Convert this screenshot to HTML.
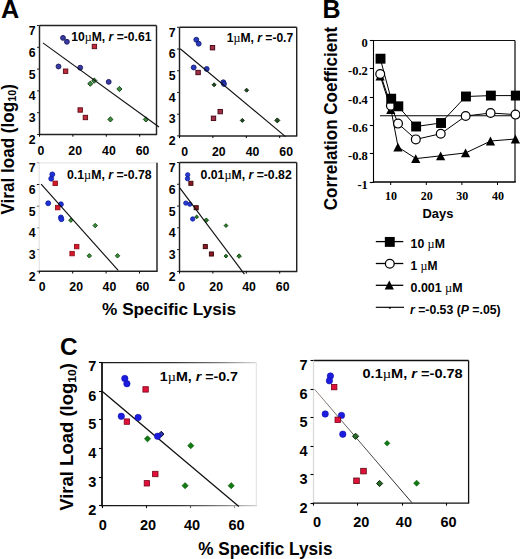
<!DOCTYPE html>
<html><head><meta charset="utf-8"><style>
html,body{margin:0;padding:0;background:#fff;}
svg{display:block;}
</style></head><body>
<svg width="520" height="559" viewBox="0 0 520 559">
<rect width="520" height="559" fill="#fff"/>
<text x="1" y="17.6" font-family='"Liberation Sans", sans-serif' font-weight="bold" font-size="25.5" textLength="18.2" lengthAdjust="spacingAndGlyphs" fill="#000">A</text>
<text x="322.6" y="17.8" font-family='"Liberation Sans", sans-serif' font-weight="bold" font-size="25" fill="#000">B</text>
<text x="60" y="354.6" font-family='"Liberation Sans", sans-serif' font-weight="bold" font-size="23.5" textLength="17.6" lengthAdjust="spacingAndGlyphs" fill="#000">C</text>
<line x1="39.5" y1="25.5" x2="156.5" y2="25.5" stroke="#222" stroke-width="1.45"/>
<line x1="156.5" y1="25.5" x2="156.5" y2="134.5" stroke="#222" stroke-width="1.45"/>
<line x1="39.5" y1="25.5" x2="39.5" y2="135.1" stroke="#222" stroke-width="1.45"/>
<line x1="38.9" y1="134.5" x2="157.1" y2="134.5" stroke="#222" stroke-width="1.45"/>
<line x1="37" y1="25.5" x2="39.5" y2="25.5" stroke="#222" stroke-width="1"/>
<text x="35.6" y="34.9" font-family='"Liberation Sans", sans-serif' font-weight="bold" font-size="12.3" text-anchor="end" fill="#000">7</text>
<line x1="37" y1="47.3" x2="39.5" y2="47.3" stroke="#222" stroke-width="1"/>
<text x="35.6" y="56.7" font-family='"Liberation Sans", sans-serif' font-weight="bold" font-size="12.3" text-anchor="end" fill="#000">6</text>
<line x1="37" y1="69.1" x2="39.5" y2="69.1" stroke="#222" stroke-width="1"/>
<text x="35.6" y="78.5" font-family='"Liberation Sans", sans-serif' font-weight="bold" font-size="12.3" text-anchor="end" fill="#000">5</text>
<line x1="37" y1="90.9" x2="39.5" y2="90.9" stroke="#222" stroke-width="1"/>
<text x="35.6" y="100.3" font-family='"Liberation Sans", sans-serif' font-weight="bold" font-size="12.3" text-anchor="end" fill="#000">4</text>
<line x1="37" y1="112.7" x2="39.5" y2="112.7" stroke="#222" stroke-width="1"/>
<text x="35.6" y="122.1" font-family='"Liberation Sans", sans-serif' font-weight="bold" font-size="12.3" text-anchor="end" fill="#000">3</text>
<line x1="37" y1="134.5" x2="39.5" y2="134.5" stroke="#222" stroke-width="1"/>
<text x="35.6" y="143.9" font-family='"Liberation Sans", sans-serif' font-weight="bold" font-size="12.3" text-anchor="end" fill="#000">2</text>
<line x1="39.5" y1="134.5" x2="39.5" y2="136.7" stroke="#000" stroke-width="1"/>
<line x1="72.9" y1="134.5" x2="72.9" y2="136.7" stroke="#000" stroke-width="1"/>
<line x1="106.3" y1="134.5" x2="106.3" y2="136.7" stroke="#000" stroke-width="1"/>
<line x1="139.7" y1="134.5" x2="139.7" y2="136.7" stroke="#000" stroke-width="1"/>
<text x="40.9" y="154.7" font-family='"Liberation Sans", sans-serif' font-weight="bold" font-size="12.3" text-anchor="middle" fill="#000">0</text>
<text x="75.2" y="154.7" font-family='"Liberation Sans", sans-serif' font-weight="bold" font-size="12.3" text-anchor="middle" fill="#000">20</text>
<text x="108.9" y="154.7" font-family='"Liberation Sans", sans-serif' font-weight="bold" font-size="12.3" text-anchor="middle" fill="#000">40</text>
<text x="142.5" y="154.7" font-family='"Liberation Sans", sans-serif' font-weight="bold" font-size="12.3" text-anchor="middle" fill="#000">60</text>
<circle cx="63" cy="37.9" r="2.45" fill="#3a3aa6" stroke="#15155a" stroke-width="0.9"/>
<circle cx="66.9" cy="41.8" r="2.45" fill="#3a3aa6" stroke="#15155a" stroke-width="0.9"/>
<circle cx="58.5" cy="66.5" r="2.45" fill="#3a3aa6" stroke="#15155a" stroke-width="0.9"/>
<circle cx="80.2" cy="67.7" r="2.45" fill="#3a3aa6" stroke="#15155a" stroke-width="0.9"/>
<circle cx="108.7" cy="81.9" r="2.45" fill="#3a3aa6" stroke="#15155a" stroke-width="0.9"/>
<rect x="92.2" y="44.3" width="4.4" height="4.4" fill="#c02a3a" stroke="#5a0a12" stroke-width="0.9"/>
<rect x="63.4" y="69" width="4.4" height="4.4" fill="#c02a3a" stroke="#5a0a12" stroke-width="0.9"/>
<rect x="78" y="107.8" width="4.4" height="4.4" fill="#c02a3a" stroke="#5a0a12" stroke-width="0.9"/>
<rect x="83.2" y="115.3" width="4.4" height="4.4" fill="#c02a3a" stroke="#5a0a12" stroke-width="0.9"/>
<path d="M90.3 81.1L92.9 83.7L90.3 86.3L87.7 83.7Z" fill="#3f8a3f" stroke="#0f3f12" stroke-width="0.9"/>
<path d="M94.3 78L96.9 80.6L94.3 83.2L91.7 80.6Z" fill="#3f8a3f" stroke="#0f3f12" stroke-width="0.9"/>
<path d="M119.4 86.4L122 89L119.4 91.6L116.8 89Z" fill="#3f8a3f" stroke="#0f3f12" stroke-width="0.9"/>
<path d="M110.4 116.8L113 119.4L110.4 122L107.8 119.4Z" fill="#3f8a3f" stroke="#0f3f12" stroke-width="0.9"/>
<path d="M145.9 116.8L148.5 119.4L145.9 122L143.3 119.4Z" fill="#3f8a3f" stroke="#0f3f12" stroke-width="0.9"/>
<line x1="42.9" y1="42.9" x2="159" y2="127" stroke="#111" stroke-width="1.15"/>
<text x="71.2" y="41.1" font-family='"Liberation Sans", sans-serif' font-weight="bold" font-size="12.2" textLength="80.2" lengthAdjust="spacingAndGlyphs" fill="#000">10<tspan font-family='"Liberation Serif", serif' font-weight="normal">µ</tspan>M, <tspan font-style="italic">r</tspan> =-0.61</text>
<line x1="179.5" y1="27.3" x2="296.7" y2="27.3" stroke="#222" stroke-width="1.45"/>
<line x1="296.7" y1="27.3" x2="296.7" y2="135.9" stroke="#222" stroke-width="1.45"/>
<line x1="179.5" y1="27.3" x2="179.5" y2="136.5" stroke="#222" stroke-width="1.45"/>
<line x1="178.9" y1="135.9" x2="297.3" y2="135.9" stroke="#222" stroke-width="1.45"/>
<line x1="177" y1="27.3" x2="179.5" y2="27.3" stroke="#222" stroke-width="1"/>
<text x="175.6" y="36.5" font-family='"Liberation Sans", sans-serif' font-weight="bold" font-size="12.3" text-anchor="end" fill="#000">7</text>
<line x1="177" y1="49.02" x2="179.5" y2="49.02" stroke="#222" stroke-width="1"/>
<text x="175.6" y="58.22" font-family='"Liberation Sans", sans-serif' font-weight="bold" font-size="12.3" text-anchor="end" fill="#000">6</text>
<line x1="177" y1="70.74" x2="179.5" y2="70.74" stroke="#222" stroke-width="1"/>
<text x="175.6" y="79.94" font-family='"Liberation Sans", sans-serif' font-weight="bold" font-size="12.3" text-anchor="end" fill="#000">5</text>
<line x1="177" y1="92.46" x2="179.5" y2="92.46" stroke="#222" stroke-width="1"/>
<text x="175.6" y="101.66" font-family='"Liberation Sans", sans-serif' font-weight="bold" font-size="12.3" text-anchor="end" fill="#000">4</text>
<line x1="177" y1="114.18" x2="179.5" y2="114.18" stroke="#222" stroke-width="1"/>
<text x="175.6" y="123.38" font-family='"Liberation Sans", sans-serif' font-weight="bold" font-size="12.3" text-anchor="end" fill="#000">3</text>
<line x1="177" y1="135.9" x2="179.5" y2="135.9" stroke="#222" stroke-width="1"/>
<text x="175.6" y="145.1" font-family='"Liberation Sans", sans-serif' font-weight="bold" font-size="12.3" text-anchor="end" fill="#000">2</text>
<line x1="179.5" y1="135.9" x2="179.5" y2="138.1" stroke="#000" stroke-width="1"/>
<line x1="212.9" y1="135.9" x2="212.9" y2="138.1" stroke="#000" stroke-width="1"/>
<line x1="246.3" y1="135.9" x2="246.3" y2="138.1" stroke="#000" stroke-width="1"/>
<line x1="279.7" y1="135.9" x2="279.7" y2="138.1" stroke="#000" stroke-width="1"/>
<text x="184.6" y="155.7" font-family='"Liberation Sans", sans-serif' font-weight="bold" font-size="12.3" text-anchor="middle" fill="#000">0</text>
<text x="218.8" y="155.7" font-family='"Liberation Sans", sans-serif' font-weight="bold" font-size="12.3" text-anchor="middle" fill="#000">20</text>
<text x="252.5" y="155.7" font-family='"Liberation Sans", sans-serif' font-weight="bold" font-size="12.3" text-anchor="middle" fill="#000">40</text>
<text x="286.2" y="155.7" font-family='"Liberation Sans", sans-serif' font-weight="bold" font-size="12.3" text-anchor="middle" fill="#000">60</text>
<circle cx="196.3" cy="39.8" r="2.45" fill="#2a3ac0" stroke="#101a70" stroke-width="0.9"/>
<circle cx="198.7" cy="43.7" r="2.45" fill="#2a3ac0" stroke="#101a70" stroke-width="0.9"/>
<circle cx="193.7" cy="67.5" r="2.45" fill="#2a3ac0" stroke="#101a70" stroke-width="0.9"/>
<circle cx="206.7" cy="69" r="2.45" fill="#2a3ac0" stroke="#101a70" stroke-width="0.9"/>
<circle cx="223.3" cy="82.3" r="2.45" fill="#2a3ac0" stroke="#101a70" stroke-width="0.9"/>
<circle cx="224" cy="84" r="2.45" fill="#2a3ac0" stroke="#101a70" stroke-width="0.9"/>
<rect x="210.3" y="45.5" width="4.4" height="4.4" fill="#a0304a" stroke="#40000c" stroke-width="0.9"/>
<rect x="195.9" y="70.3" width="4.4" height="4.4" fill="#a0304a" stroke="#40000c" stroke-width="0.9"/>
<rect x="218" y="109.4" width="4.4" height="4.4" fill="#a0304a" stroke="#40000c" stroke-width="0.9"/>
<rect x="211.3" y="116.1" width="4.4" height="4.4" fill="#a0304a" stroke="#40000c" stroke-width="0.9"/>
<path d="M214.1 82.8L216.1 84.8L214.1 86.8L212.1 84.8Z" fill="#1e4e1e" stroke="#061a06" stroke-width="0.9"/>
<path d="M246.6 88.2L248.6 90.2L246.6 92.2L244.6 90.2Z" fill="#1e4e1e" stroke="#061a06" stroke-width="0.9"/>
<path d="M242.3 118.4L244.3 120.4L242.3 122.4L240.3 120.4Z" fill="#1e4e1e" stroke="#061a06" stroke-width="0.9"/>
<path d="M277.3 117.9L279.8 120.4L277.3 122.9L274.8 120.4Z" fill="#1e4e1e" stroke="#061a06" stroke-width="0.9"/>
<line x1="180.2" y1="48.8" x2="285.5" y2="136.6" stroke="#111" stroke-width="1.15"/>
<text x="226.8" y="42.4" font-family='"Liberation Sans", sans-serif' font-weight="bold" font-size="12.2" textLength="66.4" lengthAdjust="spacingAndGlyphs" fill="#000">1<tspan font-family='"Liberation Serif", serif' font-weight="normal">µ</tspan>M, <tspan font-style="italic">r</tspan> =-0.7</text>
<line x1="39.3" y1="162.8" x2="157" y2="162.8" stroke="#ececec" stroke-width="1.45"/>
<line x1="157" y1="162.8" x2="157" y2="271.3" stroke="#222" stroke-width="1.45"/>
<line x1="39.3" y1="162.8" x2="39.3" y2="271.9" stroke="#e8e8e8" stroke-width="1.45"/>
<line x1="38.7" y1="271.3" x2="157.6" y2="271.3" stroke="#222" stroke-width="1.45"/>
<line x1="36.8" y1="162.8" x2="39.3" y2="162.8" stroke="#999" stroke-width="1"/>
<text x="35.6" y="172.1" font-family='"Liberation Sans", sans-serif' font-weight="bold" font-size="12.3" text-anchor="end" fill="#000">7</text>
<line x1="36.8" y1="184.5" x2="39.3" y2="184.5" stroke="#222" stroke-width="1"/>
<text x="35.6" y="193.8" font-family='"Liberation Sans", sans-serif' font-weight="bold" font-size="12.3" text-anchor="end" fill="#000">6</text>
<line x1="36.8" y1="206.2" x2="39.3" y2="206.2" stroke="#777" stroke-width="1"/>
<text x="35.6" y="215.5" font-family='"Liberation Sans", sans-serif' font-weight="bold" font-size="12.3" text-anchor="end" fill="#000">5</text>
<line x1="36.8" y1="227.9" x2="39.3" y2="227.9" stroke="#999" stroke-width="1"/>
<text x="35.6" y="237.2" font-family='"Liberation Sans", sans-serif' font-weight="bold" font-size="12.3" text-anchor="end" fill="#000">4</text>
<line x1="36.8" y1="249.6" x2="39.3" y2="249.6" stroke="#999" stroke-width="1"/>
<text x="35.6" y="258.9" font-family='"Liberation Sans", sans-serif' font-weight="bold" font-size="12.3" text-anchor="end" fill="#000">3</text>
<line x1="36.8" y1="271.3" x2="39.3" y2="271.3" stroke="#555" stroke-width="1"/>
<text x="35.6" y="280.6" font-family='"Liberation Sans", sans-serif' font-weight="bold" font-size="12.3" text-anchor="end" fill="#000">2</text>
<line x1="39.3" y1="271.3" x2="39.3" y2="273.5" stroke="#000" stroke-width="1"/>
<line x1="72.7" y1="271.3" x2="72.7" y2="273.5" stroke="#000" stroke-width="1"/>
<line x1="106.1" y1="271.3" x2="106.1" y2="273.5" stroke="#000" stroke-width="1"/>
<line x1="139.5" y1="271.3" x2="139.5" y2="273.5" stroke="#000" stroke-width="1"/>
<text x="42.2" y="291.2" font-family='"Liberation Sans", sans-serif' font-weight="bold" font-size="12.3" text-anchor="middle" fill="#000">0</text>
<text x="76.2" y="291.2" font-family='"Liberation Sans", sans-serif' font-weight="bold" font-size="12.3" text-anchor="middle" fill="#000">20</text>
<text x="109.4" y="291.2" font-family='"Liberation Sans", sans-serif' font-weight="bold" font-size="12.3" text-anchor="middle" fill="#000">40</text>
<text x="142.6" y="291.2" font-family='"Liberation Sans", sans-serif' font-weight="bold" font-size="12.3" text-anchor="middle" fill="#000">60</text>
<circle cx="52.3" cy="174.4" r="2.45" fill="#2030d8" stroke="#1020a0" stroke-width="0.9"/>
<circle cx="51.2" cy="178.7" r="2.45" fill="#2030d8" stroke="#1020a0" stroke-width="0.9"/>
<circle cx="48.2" cy="203.3" r="2.45" fill="#2030d8" stroke="#1020a0" stroke-width="0.9"/>
<circle cx="60.9" cy="204.3" r="2.45" fill="#2030d8" stroke="#1020a0" stroke-width="0.9"/>
<circle cx="60.9" cy="217.5" r="2.45" fill="#2030d8" stroke="#1020a0" stroke-width="0.9"/>
<circle cx="61.4" cy="219.2" r="2.45" fill="#2030d8" stroke="#1020a0" stroke-width="0.9"/>
<rect x="53" y="181.1" width="4.4" height="4.4" fill="#d8182a" stroke="#901018" stroke-width="0.9"/>
<rect x="55.5" y="205.4" width="4.4" height="4.4" fill="#d8182a" stroke="#901018" stroke-width="0.9"/>
<rect x="74.5" y="244.4" width="4.4" height="4.4" fill="#d8182a" stroke="#901018" stroke-width="0.9"/>
<rect x="69.9" y="251.4" width="4.4" height="4.4" fill="#d8182a" stroke="#901018" stroke-width="0.9"/>
<path d="M70.9 217.95L73.15 220.2L70.9 222.45L68.65 220.2Z" fill="#3a8a3a" stroke="#104a10" stroke-width="0.9"/>
<path d="M95.2 223.35L97.45 225.6L95.2 227.85L92.95 225.6Z" fill="#3a8a3a" stroke="#104a10" stroke-width="0.9"/>
<path d="M89.3 253.55L91.55 255.8L89.3 258.05L87.05 255.8Z" fill="#3a8a3a" stroke="#104a10" stroke-width="0.9"/>
<path d="M117.5 253.55L119.75 255.8L117.5 258.05L115.25 255.8Z" fill="#3a8a3a" stroke="#104a10" stroke-width="0.9"/>
<line x1="41.1" y1="184.1" x2="118.2" y2="270.4" stroke="#111" stroke-width="1.15"/>
<text x="67" y="179.2" font-family='"Liberation Sans", sans-serif' font-weight="bold" font-size="12.2" textLength="84.6" lengthAdjust="spacingAndGlyphs" fill="#000">0.1<tspan font-family='"Liberation Serif", serif' font-weight="normal">µ</tspan>M, <tspan font-style="italic">r</tspan> =-0.78</text>
<line x1="179.5" y1="162.5" x2="296.7" y2="162.5" stroke="#222" stroke-width="1.45"/>
<line x1="296.7" y1="162.5" x2="296.7" y2="271.4" stroke="#222" stroke-width="1.45"/>
<line x1="179.5" y1="162.5" x2="179.5" y2="272" stroke="#222" stroke-width="1.45"/>
<line x1="178.9" y1="271.4" x2="297.3" y2="271.4" stroke="#222" stroke-width="1.45"/>
<line x1="177" y1="162.5" x2="179.5" y2="162.5" stroke="#222" stroke-width="1"/>
<text x="175.5" y="172.1" font-family='"Liberation Sans", sans-serif' font-weight="bold" font-size="12.3" text-anchor="end" fill="#000">7</text>
<line x1="177" y1="184.28" x2="179.5" y2="184.28" stroke="#222" stroke-width="1"/>
<text x="175.5" y="193.88" font-family='"Liberation Sans", sans-serif' font-weight="bold" font-size="12.3" text-anchor="end" fill="#000">6</text>
<line x1="177" y1="206.06" x2="179.5" y2="206.06" stroke="#222" stroke-width="1"/>
<text x="175.5" y="215.66" font-family='"Liberation Sans", sans-serif' font-weight="bold" font-size="12.3" text-anchor="end" fill="#000">5</text>
<line x1="177" y1="227.84" x2="179.5" y2="227.84" stroke="#222" stroke-width="1"/>
<text x="175.5" y="237.44" font-family='"Liberation Sans", sans-serif' font-weight="bold" font-size="12.3" text-anchor="end" fill="#000">4</text>
<line x1="177" y1="249.62" x2="179.5" y2="249.62" stroke="#222" stroke-width="1"/>
<text x="175.5" y="259.22" font-family='"Liberation Sans", sans-serif' font-weight="bold" font-size="12.3" text-anchor="end" fill="#000">3</text>
<line x1="177" y1="271.4" x2="179.5" y2="271.4" stroke="#222" stroke-width="1"/>
<text x="175.5" y="281" font-family='"Liberation Sans", sans-serif' font-weight="bold" font-size="12.3" text-anchor="end" fill="#000">2</text>
<line x1="179.5" y1="271.4" x2="179.5" y2="273.6" stroke="#000" stroke-width="1"/>
<line x1="212.9" y1="271.4" x2="212.9" y2="273.6" stroke="#000" stroke-width="1"/>
<line x1="246.3" y1="271.4" x2="246.3" y2="273.6" stroke="#000" stroke-width="1"/>
<line x1="279.7" y1="271.4" x2="279.7" y2="273.6" stroke="#000" stroke-width="1"/>
<text x="181.7" y="291.1" font-family='"Liberation Sans", sans-serif' font-weight="bold" font-size="12.3" text-anchor="middle" fill="#000">0</text>
<text x="216.2" y="291.1" font-family='"Liberation Sans", sans-serif' font-weight="bold" font-size="12.3" text-anchor="middle" fill="#000">20</text>
<text x="249" y="291.1" font-family='"Liberation Sans", sans-serif' font-weight="bold" font-size="12.3" text-anchor="middle" fill="#000">40</text>
<text x="282.7" y="291.1" font-family='"Liberation Sans", sans-serif' font-weight="bold" font-size="12.3" text-anchor="middle" fill="#000">60</text>
<circle cx="187.7" cy="174.8" r="2.15" fill="#2a3ad0" stroke="#1020a0" stroke-width="0.9"/>
<circle cx="187.5" cy="178.7" r="2.15" fill="#2a3ad0" stroke="#1020a0" stroke-width="0.9"/>
<circle cx="185.8" cy="203.1" r="2.15" fill="#2a3ad0" stroke="#1020a0" stroke-width="0.9"/>
<circle cx="189.8" cy="204.2" r="2.15" fill="#2a3ad0" stroke="#1020a0" stroke-width="0.9"/>
<circle cx="192.7" cy="219" r="2.15" fill="#2a3ad0" stroke="#1020a0" stroke-width="0.9"/>
<rect x="188.85" y="181.25" width="4.1" height="4.1" fill="#8a1a22" stroke="#3a0508" stroke-width="0.9"/>
<rect x="194.15" y="205.65" width="4.1" height="4.1" fill="#8a1a22" stroke="#3a0508" stroke-width="0.9"/>
<rect x="203.25" y="244.55" width="4.1" height="4.1" fill="#8a1a22" stroke="#3a0508" stroke-width="0.9"/>
<rect x="209.35" y="251.95" width="4.1" height="4.1" fill="#8a1a22" stroke="#3a0508" stroke-width="0.9"/>
<path d="M196.7 215L198.6 216.9L196.7 218.8L194.8 216.9Z" fill="#2a7a2a" stroke="#0a400a" stroke-width="0.9"/>
<path d="M206.3 217.95L208.55 220.2L206.3 222.45L204.05 220.2Z" fill="#2a7a2a" stroke="#0a400a" stroke-width="0.9"/>
<path d="M226 223.7L227.9 225.6L226 227.5L224.1 225.6Z" fill="#2a7a2a" stroke="#0a400a" stroke-width="0.9"/>
<path d="M226 254.2L227.9 256.1L226 258L224.1 256.1Z" fill="#2a7a2a" stroke="#0a400a" stroke-width="0.9"/>
<path d="M239.1 253.85L241.35 256.1L239.1 258.35L236.85 256.1Z" fill="#2a7a2a" stroke="#0a400a" stroke-width="0.9"/>
<line x1="179.8" y1="187.9" x2="244.4" y2="274.1" stroke="#111" stroke-width="1.15"/>
<text x="200.6" y="178.8" font-family='"Liberation Sans", sans-serif' font-weight="bold" font-size="12.2" textLength="91.1" lengthAdjust="spacingAndGlyphs" fill="#000">0.01<tspan font-family='"Liberation Serif", serif' font-weight="normal">µ</tspan>M, <tspan font-style="italic">r</tspan> =-0.82</text>
<text transform="translate(13.6 214.6) rotate(-90)" font-family='"Liberation Sans", sans-serif' font-weight="bold" font-size="17.5" textLength="130.5" lengthAdjust="spacingAndGlyphs">Viral load (log<tspan font-size="11" dy="2">10</tspan><tspan dy="-2">)</tspan></text>
<text x="102.1" y="314.8" font-family='"Liberation Sans", sans-serif' font-weight="bold" font-size="17" textLength="134.1" lengthAdjust="spacingAndGlyphs" fill="#000">% Specific Lysis</text>
<line x1="373.5" y1="40.5" x2="515" y2="40.5" stroke="#111" stroke-width="1"/>
<line x1="515" y1="40.5" x2="515" y2="182" stroke="#111" stroke-width="1.25"/>
<line x1="373.5" y1="40" x2="373.5" y2="182.7" stroke="#000" stroke-width="1.1"/>
<line x1="372.9" y1="182" x2="515.75" y2="182" stroke="#000" stroke-width="1.6"/>
<line x1="369.8" y1="40.5" x2="373.5" y2="40.5" stroke="#000" stroke-width="1.1"/>
<text x="367.8" y="47" font-family='"Liberation Serif", serif' font-weight="bold" font-size="12.5" text-anchor="end" fill="#000">0</text>
<line x1="369.8" y1="68.5" x2="373.5" y2="68.5" stroke="#000" stroke-width="1.1"/>
<text x="367.8" y="75.3" font-family='"Liberation Serif", serif' font-weight="bold" font-size="12.5" text-anchor="end" fill="#000">-0.2</text>
<line x1="369.8" y1="97.5" x2="373.5" y2="97.5" stroke="#000" stroke-width="1.1"/>
<text x="367.8" y="103.6" font-family='"Liberation Serif", serif' font-weight="bold" font-size="12.5" text-anchor="end" fill="#000">-0.4</text>
<line x1="369.8" y1="125.5" x2="373.5" y2="125.5" stroke="#000" stroke-width="1.1"/>
<text x="367.8" y="131.9" font-family='"Liberation Serif", serif' font-weight="bold" font-size="12.5" text-anchor="end" fill="#000">-0.6</text>
<line x1="369.8" y1="153.5" x2="373.5" y2="153.5" stroke="#000" stroke-width="1.1"/>
<text x="367.8" y="160.2" font-family='"Liberation Serif", serif' font-weight="bold" font-size="12.5" text-anchor="end" fill="#000">-0.8</text>
<line x1="369.8" y1="182.5" x2="373.5" y2="182.5" stroke="#000" stroke-width="1.1"/>
<text x="367.8" y="188.5" font-family='"Liberation Serif", serif' font-weight="bold" font-size="12.5" text-anchor="end" fill="#000">-1</text>
<line x1="390.7" y1="182" x2="390.7" y2="185" stroke="#000" stroke-width="1"/>
<text x="391.1" y="200" font-family='"Liberation Serif", serif' font-weight="bold" font-size="12" text-anchor="middle" fill="#000">10</text>
<line x1="426.3" y1="182" x2="426.3" y2="185" stroke="#000" stroke-width="1"/>
<text x="426.7" y="200" font-family='"Liberation Serif", serif' font-weight="bold" font-size="12" text-anchor="middle" fill="#000">20</text>
<line x1="461.9" y1="182" x2="461.9" y2="185" stroke="#000" stroke-width="1"/>
<text x="462.3" y="200" font-family='"Liberation Serif", serif' font-weight="bold" font-size="12" text-anchor="middle" fill="#000">30</text>
<line x1="497.5" y1="182" x2="497.5" y2="185" stroke="#000" stroke-width="1"/>
<text x="497.9" y="200" font-family='"Liberation Serif", serif' font-weight="bold" font-size="12" text-anchor="middle" fill="#000">40</text>
<text x="437.9" y="217.8" font-family='"Liberation Sans", sans-serif' font-weight="bold" font-size="12.9" text-anchor="middle" fill="#000">Days</text>
<text transform="translate(337.3 210.2) rotate(-90)" font-family='"Liberation Sans", sans-serif' font-weight="bold" font-size="18.3" textLength="183.5" lengthAdjust="spacingAndGlyphs">Correlation Coefficient</text>
<line x1="380" y1="115.8" x2="515" y2="115.8" stroke="#000" stroke-width="1.1"/>
<polyline points="380.32,76 391,109.6 398.12,147.1 415.92,158.6 440.84,155.8 465.76,152.9 490.68,141 515.6,139" fill="none" stroke="#000" stroke-width="1"/>
<polyline points="380.32,74 391,105.8 398.12,123.6 415.92,139.4 440.84,133.7 465.76,116 490.68,113 515.6,114.6" fill="none" stroke="#000" stroke-width="1"/>
<polyline points="380.32,58.7 391,98.7 398.12,106.3 415.92,126.5 440.84,123 465.76,96.5 490.68,95.6 515.6,95.6" fill="none" stroke="#000" stroke-width="1"/>
<path d="M380.12 71.6L384.72 80.4L375.52 80.4Z" fill="#000"/>
<path d="M390.8 105.2L395.4 114L386.2 114Z" fill="#000"/>
<path d="M397.92 142.7L402.52 151.5L393.32 151.5Z" fill="#000"/>
<path d="M415.72 154.2L420.32 163L411.12 163Z" fill="#000"/>
<path d="M440.64 151.4L445.24 160.2L436.04 160.2Z" fill="#000"/>
<path d="M465.56 148.5L470.16 157.3L460.96 157.3Z" fill="#000"/>
<path d="M490.48 136.6L495.08 145.4L485.88 145.4Z" fill="#000"/>
<path d="M515.4 134.6L520 143.4L510.8 143.4Z" fill="#000"/>
<circle cx="380.22" cy="74" r="4.4" fill="#fff" stroke="#000" stroke-width="1.2"/>
<circle cx="390.9" cy="105.8" r="4.4" fill="#fff" stroke="#000" stroke-width="1.2"/>
<circle cx="398.02" cy="123.6" r="4.4" fill="#fff" stroke="#000" stroke-width="1.2"/>
<circle cx="415.82" cy="139.4" r="4.4" fill="#fff" stroke="#000" stroke-width="1.2"/>
<circle cx="440.74" cy="133.7" r="4.4" fill="#fff" stroke="#000" stroke-width="1.2"/>
<circle cx="465.66" cy="116" r="4.4" fill="#fff" stroke="#000" stroke-width="1.2"/>
<circle cx="490.58" cy="113" r="4.4" fill="#fff" stroke="#000" stroke-width="1.2"/>
<circle cx="515.5" cy="114.6" r="4.4" fill="#fff" stroke="#000" stroke-width="1.2"/>
<rect x="375.57" y="53.75" width="9.9" height="9.9" fill="#000"/>
<rect x="386.25" y="93.75" width="9.9" height="9.9" fill="#000"/>
<rect x="393.37" y="101.35" width="9.9" height="9.9" fill="#000"/>
<rect x="411.17" y="121.55" width="9.9" height="9.9" fill="#000"/>
<rect x="436.09" y="118.05" width="9.9" height="9.9" fill="#000"/>
<rect x="461.01" y="91.55" width="9.9" height="9.9" fill="#000"/>
<rect x="485.93" y="90.65" width="9.9" height="9.9" fill="#000"/>
<rect x="510.85" y="90.65" width="9.9" height="9.9" fill="#000"/>
<line x1="375.8" y1="241.6" x2="403.3" y2="241.6" stroke="#000" stroke-width="1.3"/>
<line x1="375.8" y1="263.5" x2="403.3" y2="263.5" stroke="#000" stroke-width="1.3"/>
<line x1="375.8" y1="285.3" x2="403.3" y2="285.3" stroke="#000" stroke-width="1.3"/>
<line x1="375.8" y1="307.3" x2="404" y2="307.3" stroke="#000" stroke-width="1.15"/>
<rect x="388.9" y="307" width="2" height="1.6" fill="#000"/>
<rect x="384.85" y="236.95" width="9.9" height="9.9" fill="#000"/>
<circle cx="389.8" cy="263.8" r="4.4" fill="#fff" stroke="#000" stroke-width="1.25"/>
<path d="M389.3 280.6L393.9 289.6L384.7 289.6Z" fill="#000"/>
<text x="410.6" y="247.8" font-family='"Liberation Sans", sans-serif' font-weight="bold" font-size="12" textLength="34.3" lengthAdjust="spacingAndGlyphs" fill="#000">10 <tspan font-family='"Liberation Serif", serif' font-weight="normal">µ</tspan>M</text>
<text x="410.6" y="269.6" font-family='"Liberation Sans", sans-serif' font-weight="bold" font-size="12" fill="#000">1 <tspan font-family='"Liberation Serif", serif' font-weight="normal">µ</tspan>M</text>
<text x="410.6" y="291.8" font-family='"Liberation Sans", sans-serif' font-weight="bold" font-size="12" textLength="52" lengthAdjust="spacingAndGlyphs" fill="#000">0.001 <tspan font-family='"Liberation Serif", serif' font-weight="normal">µ</tspan>M</text>
<text x="410" y="313.6" font-family='"Liberation Sans", sans-serif' font-weight="bold" font-size="12.4" textLength="90.6" lengthAdjust="spacingAndGlyphs" fill="#000"><tspan font-style="italic">r</tspan> =-0.53 (<tspan font-style="italic">P</tspan> =.05)</text>
<defs><linearGradient id="gt" gradientUnits="userSpaceOnUse" x1="102" x2="256.4" y1="0" y2="0"><stop offset="0" stop-color="#1a1a1a"/><stop offset="0.45" stop-color="#333"/><stop offset="0.75" stop-color="#777"/><stop offset="1" stop-color="#d8d8d8"/></linearGradient><linearGradient id="gb" gradientUnits="userSpaceOnUse" x1="102" x2="256.4" y1="0" y2="0"><stop offset="0" stop-color="#111"/><stop offset="0.5" stop-color="#333"/><stop offset="0.8" stop-color="#888"/><stop offset="1" stop-color="#d0d0d0"/></linearGradient><linearGradient id="gl" gradientUnits="userSpaceOnUse" x1="314.5" y1="389.2" x2="412" y2="502.8"><stop offset="0" stop-color="#9a8a80"/><stop offset="0.4" stop-color="#555"/><stop offset="1" stop-color="#222"/></linearGradient></defs>
<line x1="102" y1="362.6" x2="256.4" y2="362.6" stroke="url(#gt)" stroke-width="1.3"/>
<line x1="256.4" y1="362.6" x2="256.4" y2="505.6" stroke="#e6e6e6" stroke-width="1.3"/>
<line x1="102" y1="362.6" x2="102" y2="506.2" stroke="#111" stroke-width="1.8"/>
<line x1="101.4" y1="505.6" x2="257" y2="505.6" stroke="url(#gb)" stroke-width="1.3"/>
<line x1="99" y1="362.5" x2="102" y2="362.5" stroke="#000" stroke-width="1.1"/>
<text x="96.4" y="371" font-family='"Liberation Sans", sans-serif' font-weight="bold" font-size="14.5" text-anchor="end" fill="#000">7</text>
<line x1="99" y1="391.5" x2="102" y2="391.5" stroke="#000" stroke-width="1.1"/>
<text x="96.4" y="400.8" font-family='"Liberation Sans", sans-serif' font-weight="bold" font-size="14.5" text-anchor="end" fill="#000">6</text>
<line x1="99" y1="419.5" x2="102" y2="419.5" stroke="#000" stroke-width="1.1"/>
<text x="96.4" y="429.4" font-family='"Liberation Sans", sans-serif' font-weight="bold" font-size="14.5" text-anchor="end" fill="#000">5</text>
<line x1="99" y1="448.5" x2="102" y2="448.5" stroke="#000" stroke-width="1.1"/>
<text x="96.4" y="458" font-family='"Liberation Sans", sans-serif' font-weight="bold" font-size="14.5" text-anchor="end" fill="#000">4</text>
<line x1="99" y1="477.5" x2="102" y2="477.5" stroke="#000" stroke-width="1.1"/>
<text x="96.4" y="486.6" font-family='"Liberation Sans", sans-serif' font-weight="bold" font-size="14.5" text-anchor="end" fill="#000">3</text>
<line x1="99" y1="505.5" x2="102" y2="505.5" stroke="#000" stroke-width="1.1"/>
<text x="96.4" y="515.2" font-family='"Liberation Sans", sans-serif' font-weight="bold" font-size="14.5" text-anchor="end" fill="#000">2</text>
<line x1="102.5" y1="505.6" x2="102.5" y2="508.1" stroke="#000" stroke-width="1.1"/>
<line x1="146.5" y1="505.6" x2="146.5" y2="508.1" stroke="#111" stroke-width="1.1"/>
<line x1="190.5" y1="505.6" x2="190.5" y2="508.1" stroke="#555" stroke-width="1.1"/>
<line x1="234.5" y1="505.6" x2="234.5" y2="508.1" stroke="#999" stroke-width="1.1"/>
<text x="102.9" y="530" font-family='"Liberation Sans", sans-serif' font-weight="bold" font-size="14.5" text-anchor="middle" fill="#000">0</text>
<text x="148" y="530" font-family='"Liberation Sans", sans-serif' font-weight="bold" font-size="14.5" text-anchor="middle" fill="#000">20</text>
<text x="192" y="530" font-family='"Liberation Sans", sans-serif' font-weight="bold" font-size="14.5" text-anchor="middle" fill="#000">40</text>
<text x="236.5" y="530" font-family='"Liberation Sans", sans-serif' font-weight="bold" font-size="14.5" text-anchor="middle" fill="#000">60</text>
<line x1="101.8" y1="391" x2="238.9" y2="506.5" stroke="#111" stroke-width="1.3"/>
<path d="M161.2 431.3L164 434.1L161.2 436.9L158.4 434.1Z" fill="#2a36b0" stroke="#080830" stroke-width="1"/>
<circle cx="124.8" cy="378.5" r="3.2" fill="#1c1ce0" stroke="#1010a8" stroke-width="0.6"/>
<circle cx="126.9" cy="383.7" r="3.2" fill="#1c1ce0" stroke="#1010a8" stroke-width="0.6"/>
<circle cx="121.3" cy="416.3" r="3.2" fill="#1c1ce0" stroke="#1010a8" stroke-width="0.6"/>
<circle cx="138.1" cy="417.5" r="3.2" fill="#1c1ce0" stroke="#1010a8" stroke-width="0.6"/>
<circle cx="157.6" cy="436.3" r="3.2" fill="#1c1ce0" stroke="#1010a8" stroke-width="0.6"/>
<rect x="142.9" y="386.7" width="5.4" height="5.4" fill="#e0123a" stroke="#780018" stroke-width="0.8"/>
<rect x="124.2" y="418.9" width="5.4" height="5.4" fill="#e0123a" stroke="#780018" stroke-width="0.8"/>
<rect x="152.6" y="471.3" width="5.4" height="5.4" fill="#e0123a" stroke="#780018" stroke-width="0.8"/>
<rect x="144.2" y="480.6" width="5.4" height="5.4" fill="#e0123a" stroke="#780018" stroke-width="0.8"/>
<path d="M147.5 435.7L150.6 438.8L147.5 441.9L144.4 438.8Z" fill="#127a12" stroke="#045004" stroke-width="0.6"/>
<path d="M190.8 442.6L193.9 445.7L190.8 448.8L187.7 445.7Z" fill="#127a12" stroke="#045004" stroke-width="0.6"/>
<path d="M185.1 482.6L188.2 485.7L185.1 488.8L182 485.7Z" fill="#127a12" stroke="#045004" stroke-width="0.6"/>
<path d="M231.2 482.6L234.3 485.7L231.2 488.8L228.1 485.7Z" fill="#127a12" stroke="#045004" stroke-width="0.6"/>
<text x="159.8" y="380.5" font-family='"Liberation Sans", sans-serif' font-weight="bold" font-size="12.2" textLength="78.2" lengthAdjust="spacingAndGlyphs" fill="#000">1<tspan font-family='"Liberation Serif", serif' font-weight="normal">µ</tspan>M, <tspan font-style="italic">r</tspan> =-0.7</text>
<line x1="313.5" y1="360.5" x2="468.6" y2="360.5" stroke="#111" stroke-width="1.3"/>
<line x1="468.6" y1="360.5" x2="468.6" y2="503.1" stroke="#111" stroke-width="1.3"/>
<line x1="313.5" y1="360.5" x2="313.5" y2="503.7" stroke="#dadada" stroke-width="1.3"/>
<line x1="312.9" y1="503.1" x2="469.2" y2="503.1" stroke="#111" stroke-width="1.3"/>
<line x1="310.5" y1="360.5" x2="313.5" y2="360.5" stroke="#000" stroke-width="1.1"/>
<text x="307.6" y="370.3" font-family='"Liberation Sans", sans-serif' font-weight="bold" font-size="14.5" text-anchor="end" fill="#000">7</text>
<line x1="310.5" y1="389.5" x2="313.5" y2="389.5" stroke="#000" stroke-width="1.1"/>
<text x="307.6" y="398.82" font-family='"Liberation Sans", sans-serif' font-weight="bold" font-size="14.5" text-anchor="end" fill="#000">6</text>
<line x1="310.5" y1="417.5" x2="313.5" y2="417.5" stroke="#000" stroke-width="1.1"/>
<text x="307.6" y="427.34" font-family='"Liberation Sans", sans-serif' font-weight="bold" font-size="14.5" text-anchor="end" fill="#000">5</text>
<line x1="310.5" y1="446.5" x2="313.5" y2="446.5" stroke="#000" stroke-width="1.1"/>
<text x="307.6" y="455.86" font-family='"Liberation Sans", sans-serif' font-weight="bold" font-size="14.5" text-anchor="end" fill="#000">4</text>
<line x1="310.5" y1="474.5" x2="313.5" y2="474.5" stroke="#000" stroke-width="1.1"/>
<text x="307.6" y="484.38" font-family='"Liberation Sans", sans-serif' font-weight="bold" font-size="14.5" text-anchor="end" fill="#000">3</text>
<line x1="310.5" y1="503.5" x2="313.5" y2="503.5" stroke="#000" stroke-width="1.1"/>
<text x="307.6" y="512.9" font-family='"Liberation Sans", sans-serif' font-weight="bold" font-size="14.5" text-anchor="end" fill="#000">2</text>
<line x1="313.5" y1="503.1" x2="313.5" y2="505.6" stroke="#000" stroke-width="1.1"/>
<line x1="357.5" y1="503.1" x2="357.5" y2="505.6" stroke="#000" stroke-width="1.1"/>
<line x1="402.5" y1="503.1" x2="402.5" y2="505.6" stroke="#000" stroke-width="1.1"/>
<line x1="446.5" y1="503.1" x2="446.5" y2="505.6" stroke="#000" stroke-width="1.1"/>
<text x="317" y="527.4" font-family='"Liberation Sans", sans-serif' font-weight="bold" font-size="14.5" text-anchor="middle" fill="#000">0</text>
<text x="361.2" y="527.4" font-family='"Liberation Sans", sans-serif' font-weight="bold" font-size="14.5" text-anchor="middle" fill="#000">20</text>
<text x="403.9" y="527.4" font-family='"Liberation Sans", sans-serif' font-weight="bold" font-size="14.5" text-anchor="middle" fill="#000">40</text>
<text x="448.5" y="527.4" font-family='"Liberation Sans", sans-serif' font-weight="bold" font-size="14.5" text-anchor="middle" fill="#000">60</text>
<line x1="314.5" y1="389.2" x2="412" y2="502.8" stroke="url(#gl)" stroke-width="1"/>
<circle cx="330.4" cy="376" r="3.2" fill="#1c1ce0" stroke="#1010a8" stroke-width="0.6"/>
<circle cx="329.4" cy="380.8" r="3.2" fill="#1c1ce0" stroke="#1010a8" stroke-width="0.6"/>
<circle cx="325.2" cy="414" r="3.2" fill="#1c1ce0" stroke="#1010a8" stroke-width="0.6"/>
<circle cx="341.5" cy="415.4" r="3.2" fill="#1c1ce0" stroke="#1010a8" stroke-width="0.6"/>
<circle cx="342.8" cy="434.2" r="3.2" fill="#1c1ce0" stroke="#1010a8" stroke-width="0.6"/>
<rect x="331.5" y="384.4" width="5.4" height="5.4" fill="#e0123a" stroke="#780018" stroke-width="0.8"/>
<rect x="335" y="417.1" width="5.4" height="5.4" fill="#e0123a" stroke="#780018" stroke-width="0.8"/>
<rect x="360.7" y="468.3" width="5.6" height="5.6" fill="#e0123a" stroke="#5a0a10" stroke-width="0.8"/>
<rect x="353.7" y="478" width="5.6" height="5.6" fill="#e0123a" stroke="#5a0a10" stroke-width="0.8"/>
<path d="M355.6 433.2L358.7 436.3L355.6 439.4L352.5 436.3Z" fill="#2a6a2a" stroke="#0a2a0a" stroke-width="1"/>
<path d="M379.6 480.4L382.7 483.5L379.6 486.6L376.5 483.5Z" fill="#2a6a2a" stroke="#0a2a0a" stroke-width="1"/>
<path d="M387.1 440.55L389.85 443.3L387.1 446.05L384.35 443.3Z" fill="#127a12" stroke="#045004" stroke-width="0.6"/>
<path d="M416.6 480.2L419.6 483.2L416.6 486.2L413.6 483.2Z" fill="#127a12" stroke="#045004" stroke-width="0.6"/>
<text x="362.5" y="377.5" font-family='"Liberation Sans", sans-serif' font-weight="bold" font-size="12.5" textLength="100.2" lengthAdjust="spacingAndGlyphs" fill="#000">0.1<tspan font-family='"Liberation Serif", serif' font-weight="normal">µ</tspan>M, <tspan font-style="italic">r</tspan> =-0.78</text>
<text transform="translate(73.4 510.8) rotate(-90)" font-family='"Liberation Sans", sans-serif' font-weight="bold" font-size="17.6" textLength="147.8" lengthAdjust="spacingAndGlyphs">Viral Load (log<tspan font-size="11.5" dy="2.5">10</tspan><tspan dy="-2.5">)</tspan></text>
<text x="198.2" y="555.2" font-family='"Liberation Sans", sans-serif' font-weight="bold" font-size="17.5" textLength="134.3" lengthAdjust="spacingAndGlyphs" fill="#000">% Specific Lysis</text>
</svg>
</body></html>
